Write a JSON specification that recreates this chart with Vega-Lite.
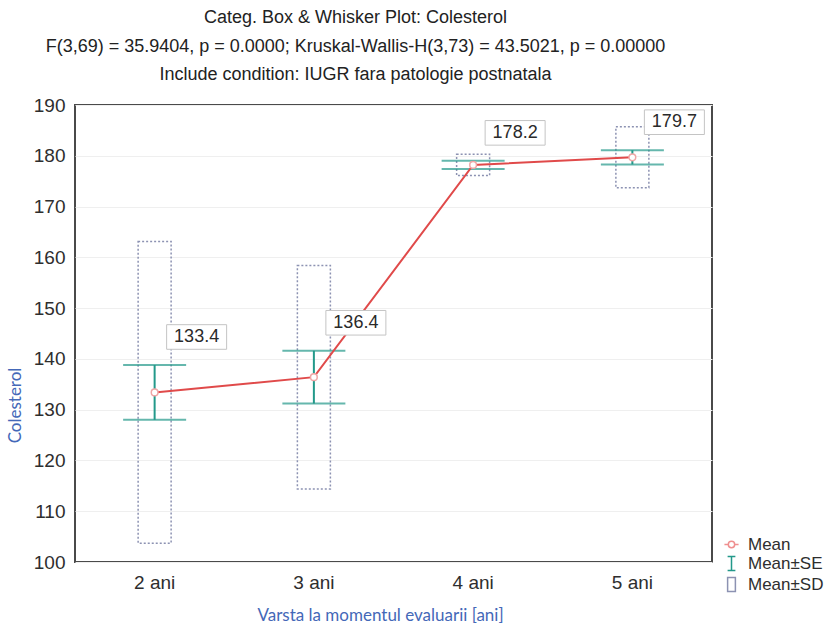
{
  "$schema": "https://vega.github.io/schema/vega-lite/v6.json",
  "width": 637,
  "height": 457,
  "autosize": {"type": "none"},
  "padding": {"left": 75, "top": 105, "right": 123, "bottom": 65},
  "background": "white",
  "config": {
    "view": {"stroke": "#4a4a4a", "strokeWidth": 2},
    "font": "Liberation Sans",
    "axis": {"labelFont": "Liberation Sans", "labelFontSize": 19, "labelColor": "#2e2e2e", "domain": false, "ticks": false, "titleFont": "Lato", "titleFontWeight": "normal", "titleFontSize": 17, "titleColor": "#4468b8"},
    "legend": {"labelFont": "Liberation Sans", "labelFontSize": 17, "labelColor": "#2e2e2e"}
  },
  "title": {
    "text": ["Categ. Box & Whisker Plot: Colesterol", "F(3,69) = 35.9404, p = 0.0000; Kruskal-Wallis-H(3,73) = 43.5021, p = 0.00000", "Include condition: IUGR fara patologie postnatala"],
    "anchor": "middle",
    "frame": "group",
    "dx": -38,
    "offset": 12,
    "font": "Liberation Sans",
    "fontSize": 18,
    "fontWeight": "normal",
    "color": "#222222",
    "lineHeight": 28.5
  },
  "layer": [
    {
      "data": {"name": "stats", "values": [
        {"age": "2 ani", "mean": 133.4, "se_lo": 128.0, "se_hi": 138.8, "sd_lo": 103.7, "sd_hi": 163.1, "label": "133.4"},
        {"age": "3 ani", "mean": 136.4, "se_lo": 131.2, "se_hi": 141.6, "sd_lo": 114.4, "sd_hi": 158.4, "label": "136.4"},
        {"age": "4 ani", "mean": 178.2, "se_lo": 177.4, "se_hi": 179.0, "sd_lo": 176.1, "sd_hi": 180.3, "label": "178.2"},
        {"age": "5 ani", "mean": 179.7, "se_lo": 178.3, "se_hi": 181.1, "sd_lo": 173.7, "sd_hi": 185.7, "label": "179.7"}
      ]},
      "encoding": {
        "x": {"field": "age", "type": "nominal", "sort": null,
              "scale": {"type": "band", "paddingInner": 0, "paddingOuter": 0},
              "axis": {"title": "Varsta la momentul evaluarii [ani]", "labelAngle": 0, "labelPadding": 11, "titlePadding": 15, "titleX": 305}}
      },
      "layer": [
        {
          "mark": {"type": "bar", "width": 33, "fill": "white", "fillOpacity": 0, "stroke": "#8c92b2", "strokeWidth": 1.5, "strokeDash": [2, 2]},
          "encoding": {
            "y": {"field": "sd_lo", "type": "quantitative",
                  "scale": {"domain": [100, 190], "nice": false, "zero": false},
                  "axis": {"title": "Colesterol", "values": [100, 110, 120, 130, 140, 150, 160, 170, 180, 190], "labelPadding": 10, "titlePadding": 9, "grid": true, "gridColor": "#efefef", "titleY": 300}},
            "y2": {"field": "sd_hi"}
          }
        },
        {
          "mark": {"type": "rule", "color": "#23998a", "strokeWidth": 2},
          "encoding": {
            "y": {"field": "se_lo", "type": "quantitative"},
            "y2": {"field": "se_hi"}
          }
        },
        {
          "mark": {"type": "tick", "color": "#23998a", "size": 63, "thickness": 2},
          "encoding": {"y": {"field": "se_lo", "type": "quantitative"}}
        },
        {
          "mark": {"type": "tick", "color": "#23998a", "size": 63, "thickness": 2},
          "encoding": {"y": {"field": "se_hi", "type": "quantitative"}}
        },
        {
          "mark": {"type": "line", "color": "#e04a4a", "strokeWidth": 2},
          "encoding": {"y": {"field": "mean", "type": "quantitative"}}
        },
        {
          "mark": {"type": "point", "shape": "circle", "size": 45, "filled": true, "fill": "white", "stroke": "#f0a6a6", "strokeWidth": 1.5, "opacity": 1},
          "encoding": {"y": {"field": "mean", "type": "quantitative"}}
        },
        {
          "mark": {"type": "point", "shape": "M-1,-0.41H1V0.41H-1Z", "size": 3600, "filled": true, "fill": "white", "stroke": "#c4c4c4", "strokeWidth": 1, "opacity": 1, "xOffset": 42, "yOffset": -28},
          "encoding": {"y": {"field": "se_hi", "type": "quantitative"}}
        },
        {
          "mark": {"type": "text", "font": "Liberation Sans", "fontSize": 18, "color": "#2a2a2a", "align": "center", "baseline": "middle", "xOffset": 42, "yOffset": -28},
          "encoding": {"y": {"field": "se_hi", "type": "quantitative"}, "text": {"field": "label"}}
        }
      ]
    },
    {
      "data": {"values": [{"item": "Mean"}, {"item": "Mean±SE"}, {"item": "Mean±SD"}]},
      "mark": {"type": "point", "filled": false, "opacity": 0, "strokeWidth": 1.5},
      "encoding": {
        "shape": {"field": "item", "type": "nominal", "sort": null,
                  "scale": {"domain": ["Mean", "Mean±SE", "Mean±SD"], "range": ["M-1,0H-0.45M0.45,0H1M-0.45,0A0.45,0.45 0 1,0 0.45,0A0.45,0.45 0 1,0 -0.45,0Z", "M-0.55,-1H0.55M0,-1V1M-0.55,1H0.55", "M-0.55,-1H0.55V1H-0.55Z"]},
                  "legend": {"title": null, "orient": "none", "legendX": 648, "legendY": 431, "symbolSize": 200, "symbolOpacity": 1, "symbolStrokeWidth": 1.5, "rowPadding": 0, "labelOffset": 8,
                             "encode": {"symbols": {"update": {"strokeDash": {"signal": "datum.value === 'Mean±SD' ? [2, 2] : [1, 0]"}}}}}},
        "color": {"field": "item", "type": "nominal", "sort": null,
                  "scale": {"domain": ["Mean", "Mean±SE", "Mean±SD"], "range": ["#ef8f8f", "#23998a", "#8c92b2"]},
                  "legend": {"title": null, "orient": "none", "legendX": 648, "legendY": 431, "symbolSize": 200, "symbolOpacity": 1, "symbolStrokeWidth": 1.5, "rowPadding": 0, "labelOffset": 8,
                             "encode": {"symbols": {"update": {"strokeDash": {"signal": "datum.value === 'Mean±SD' ? [2, 2] : [1, 0]"}}}}}}
      }
    }
  ]
}
